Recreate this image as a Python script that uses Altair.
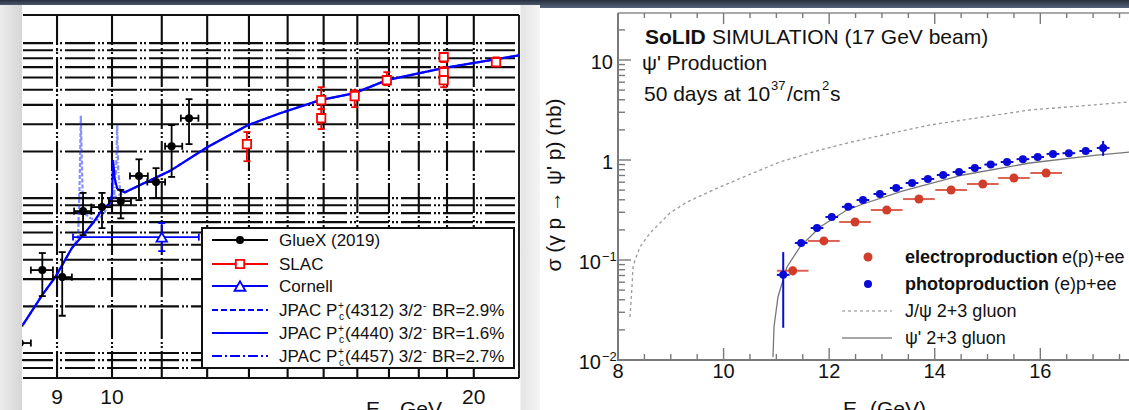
import altair as alt
import pandas as pd

FONT = "Liberation Sans"

# ================= LEFT PANEL : J/psi photoproduction =================
gluex_E   = [8.38, 8.75, 9.09, 9.46, 9.81, 10.17, 10.53, 10.88, 11.21, 11.59]
gluex_sig = [0.116, 0.343, 0.309, 0.824, 0.875, 0.956, 1.39, 1.27, 2.16, 3.28]
gluex_Elo = [8.20, 8.56, 8.93, 9.30, 9.61, 9.94, 10.35, 10.70, 11.07, 11.41]
gluex_Ehi = [8.56, 8.93, 9.26, 9.61, 10.00, 10.37, 10.71, 11.07, 11.44, 11.80]
gluex_slo = [0.090, 0.233, 0.174, 0.577, 0.640, 0.740, 0.970, 1.00, 1.37, 2.23]
gluex_shi = [0.150, 0.442, 0.448, 1.08, 1.08, 1.13, 1.78, 1.56, 2.96, 4.35]

slac_E   = [12.95, 14.93, 14.93, 15.92, 16.93, 18.88, 18.88, 18.88, 20.87]
slac_sig = [2.23, 4.29, 3.28, 4.55, 5.77, 8.12, 6.50, 5.77, 7.54]
slac_slo = [1.73, 3.75, 2.79, 3.86, 5.36, 7.55, 6.05, 5.20, 7.10]
slac_shi = [2.67, 5.20, 3.75, 4.97, 6.50, 8.65, 7.00, 6.30, 8.10]

cornell_E, cornell_sig = [11.0], [0.56]
cornell_Elo, cornell_Ehi = [9.28], [11.81]
cornell_slo, cornell_shi = [0.455], [0.69]

# JPAC Pc(4440) (solid, includes background)
jpac4440_E = [8.43, 8.75, 8.97, 9.26, 9.46, 9.64, 9.81, 9.96, 10.00, 10.02, 10.05, 10.10, 10.15,
              10.25, 11.18, 12.0, 12.98, 13.8, 14.9, 15.92, 16.93, 18.86, 21.81]
jpac4440_s = [0.152, 0.237, 0.309, 0.476, 0.577, 0.69, 0.837, 0.93, 1.05, 1.76, 1.35, 1.15, 1.12,
              1.09, 1.5, 2.13, 2.96, 3.53, 4.29, 4.76, 5.77, 6.9, 8.35]
# JPAC Pc(4312) (dashed)
jpac4312_E = [8.43, 8.75, 8.97, 9.26, 9.37, 9.40, 9.42, 9.44, 9.46, 9.60, 9.72, 9.83, 9.96,
              10.05, 10.25, 11.18, 12.0, 12.98, 13.8, 14.9, 15.92, 16.93, 18.86, 21.81]
jpac4312_s = [0.152, 0.237, 0.309, 0.476, 0.55, 1.3, 3.4, 1.6, 0.81, 0.74, 0.72, 0.78, 0.93,
              1.02, 1.09, 1.5, 2.13, 2.96, 3.53, 4.29, 4.76, 5.77, 6.9, 8.35]
# JPAC Pc(4457) (dash-dot)
jpac4457_E = [8.43, 8.75, 8.97, 9.26, 9.46, 9.64, 9.81, 9.96, 10.04, 10.08, 10.10, 10.12, 10.16,
              10.25, 11.18, 12.0, 12.98, 13.8, 14.9, 15.92, 16.93, 18.86, 21.81]
jpac4457_s = [0.152, 0.237, 0.309, 0.476, 0.577, 0.69, 0.837, 0.93, 1.0, 1.6, 2.96, 1.5, 1.1,
              1.09, 1.5, 2.13, 2.96, 3.53, 4.29, 4.76, 5.77, 6.9, 8.35]

left_hgrid = [0.08, 0.09, 0.1, 0.2, 0.3, 0.4, 0.5, 0.6, 0.7, 0.8, 0.9, 1, 2, 3, 4, 5, 6, 7, 8, 9, 10]
left_vgrid = [9, 10, 11, 12, 13, 14, 15, 16, 17, 18, 19, 20]
left_xlabels = [9, 10, 20]

# ================= RIGHT PANEL : SoLID psi' simulation =================
photo_E   = [11.13, 11.47, 11.77, 12.05, 12.36, 12.64, 12.96, 13.27, 13.57, 13.87, 14.16,
             14.46, 14.76, 15.06, 15.37, 15.67, 15.95, 16.24, 16.54, 16.86, 17.19]
photo_sig = [0.071, 0.148, 0.209, 0.269, 0.340, 0.398, 0.457, 0.525, 0.589, 0.646, 0.708,
             0.759, 0.832, 0.900, 0.955, 1.02, 1.07, 1.15, 1.17, 1.23, 1.32]
photo_lo  = [0.021, 0.138, 0.197, 0.256, 0.325, 0.382, 0.440, 0.507, 0.570, 0.625, 0.686,
             0.735, 0.806, 0.870, 0.922, 0.983, 1.03, 1.10, 1.11, 1.16, 1.10]
photo_hi  = [0.120, 0.158, 0.221, 0.282, 0.355, 0.414, 0.474, 0.543, 0.608, 0.667, 0.730,
             0.783, 0.858, 0.930, 0.988, 1.057, 1.11, 1.20, 1.23, 1.30, 1.55]
photo_halfwidth = 0.12

electro_E   = [11.31, 11.90, 12.49, 13.09, 13.70, 14.31, 14.91, 15.50, 16.11]
electro_sig = [0.078, 0.155, 0.240, 0.316, 0.407, 0.501, 0.575, 0.661, 0.741]
electro_lo  = [0.070, 0.146, 0.230, 0.305, 0.395, 0.488, 0.561, 0.646, 0.725]
electro_hi  = [0.086, 0.164, 0.250, 0.327, 0.419, 0.514, 0.589, 0.676, 0.757]
electro_halfwidth = 0.30

jpsi_E = [8.227, 8.265, 8.284, 8.322, 8.417, 8.606, 8.985, 9.307, 9.932, 10.557, 11.068,
          11.826, 12.583, 13.91, 15.80, 17.68]
jpsi_s = [0.0269, 0.0537, 0.0851, 0.10, 0.135, 0.186, 0.295, 0.380, 0.537, 0.741, 0.955,
          1.26, 1.585, 2.24, 3.16, 3.80]
psi2_E = [10.936, 10.955, 11.03, 11.20, 11.447, 11.826, 12.337, 12.64, 13.4, 14.534, 15.80, 17.07, 17.68]
psi2_s = [0.0107, 0.0214, 0.0427, 0.0851, 0.135, 0.214, 0.316, 0.363, 0.49, 0.708, 0.933, 1.12, 1.20]

r_xmajor = [8, 10, 12, 14, 16]
r_xminor = [8.5, 9, 9.5, 10.5, 11, 11.5, 12.5, 13, 13.5, 14.5, 15, 15.5, 16.5, 17, 17.5]
r_ymajor = [0.01, 0.1, 1, 10]
r_yminor = [0.02, 0.03, 0.04, 0.05, 0.06, 0.07, 0.08, 0.09, 0.2, 0.3, 0.4, 0.5, 0.6, 0.7,
            0.8, 0.9, 2, 3, 4, 5, 6, 7, 8, 9, 20]

# ---------------- scales (pixel ranges) ----------------
xl = alt.Scale(type="log", domain=[8.432, 21.81], range=[23, 519], nice=False, zero=False)
yl = alt.Scale(type="log", domain=[0.0690, 15.2], range=[378, 15], nice=False, zero=False)
xr = alt.Scale(type="linear", domain=[8, 17.68], range=[618, 1129], nice=False, zero=False)
yr = alt.Scale(type="log", domain=[0.01, 29.5], range=[360, 13], nice=False, zero=False)


def one():
    return pd.DataFrame({"a": [0]})


def ptext(s, x, y, size, weight="normal", align="left", baseline="alphabetic",
          color="#111111", angle=0, font=FONT):
    return alt.Chart(pd.DataFrame({"t": [s]})).mark_text(
        align=align, baseline=baseline, fontSize=size, font=font, fontWeight=weight,
        color=color, angle=angle
    ).encode(x=alt.value(x), y=alt.value(y), text="t:N")


def prule(x1, y1, x2, y2, color, width, dash=None, opacity=1.0):
    kw = dict(color=color, strokeWidth=width, opacity=opacity)
    if dash:
        kw["strokeDash"] = dash
    return alt.Chart(one()).mark_rule(**kw).encode(
        x=alt.value(x1), x2=alt.value(x2), y=alt.value(y1), y2=alt.value(y2))


def prect(x1, y1, x2, y2, fill, stroke=None, sw=0):
    kw = dict(fill=fill)
    if stroke:
        kw["stroke"] = stroke
        kw["strokeWidth"] = sw
    return alt.Chart(one()).mark_rect(**kw).encode(
        x=alt.value(x1), x2=alt.value(x2), y=alt.value(y1), y2=alt.value(y2))


def ppoint(x, y, shape, size, color, filled, sw=1.6):
    return alt.Chart(one()).mark_point(shape=shape, size=size, color=color, filled=filled,
                                       opacity=1, strokeWidth=sw).encode(
        x=alt.value(x), y=alt.value(y))


# ======================= LEFT PANEL LAYERS =======================
L = []
gdash = [30, 3, 2, 2, 2, 3]
L.append(alt.Chart(pd.DataFrame({"h": left_hgrid})).mark_rule(
    color="#0d0d0d", strokeWidth=2.1, strokeDash=gdash).encode(
    y=alt.Y("h:Q", scale=yl, axis=None), x=alt.value(23), x2=alt.value(519)))
L.append(alt.Chart(pd.DataFrame({"v": left_vgrid})).mark_rule(
    color="#0d0d0d", strokeWidth=2.1, strokeDash=gdash).encode(
    x=alt.X("v:Q", scale=xl, axis=None), y=alt.value(15), y2=alt.value(378)))
# frame
L.append(prule(23, 15, 519, 15, "#111111", 2))
L.append(prule(519, 15, 519, 378, "#222222", 2))
L.append(prule(23, 378, 519, 378, "#111111", 2))

# JPAC curves
def curve(E, s, color, width, dash=None, opacity=1.0):
    kw = dict(color=color, strokeWidth=width, opacity=opacity)
    if dash:
        kw["strokeDash"] = dash
    return alt.Chart(pd.DataFrame({"E": E, "s": s, "o": list(range(len(E)))})).mark_line(**kw).encode(
        x=alt.X("E:Q", scale=xl, axis=None), y=alt.Y("s:Q", scale=yl, axis=None), order="o:Q")

L.append(curve(jpac4312_E, jpac4312_s, "#2233ff", 2.2, [4, 2], 0.55))
L.append(curve(jpac4457_E, jpac4457_s, "#2233ff", 2.2, [5, 2, 1, 2], 0.55))
L.append(curve(jpac4440_E, jpac4440_s, "#0000ff", 2.2))


def errpoints(E, s, Elo, Ehi, slo, shi, color, shape, size, filled, sw=1.8):
    df = pd.DataFrame(dict(E=E, s=s, Elo=Elo, Ehi=Ehi, slo=slo, shi=shi))
    b = alt.Chart(df)
    X = alt.X("E:Q", scale=xl, axis=None)
    Y = alt.Y("s:Q", scale=yl, axis=None)
    out = [
        b.mark_rule(color=color, strokeWidth=sw).encode(
            x=alt.X("Elo:Q", scale=xl, axis=None), x2="Ehi:Q", y=Y),
        b.mark_rule(color=color, strokeWidth=sw).encode(
            x=X, y=alt.Y("slo:Q", scale=yl, axis=None), y2="shi:Q"),
        b.mark_tick(orient="horizontal", size=7, thickness=sw, color=color, opacity=1).encode(
            x=X, y=alt.Y("shi:Q", scale=yl, axis=None)),
        b.mark_tick(orient="horizontal", size=7, thickness=sw, color=color, opacity=1).encode(
            x=X, y=alt.Y("slo:Q", scale=yl, axis=None)),
        b.mark_tick(orient="vertical", size=7, thickness=sw, color=color, opacity=1).encode(
            x=alt.X("Elo:Q", scale=xl, axis=None), y=Y),
        b.mark_tick(orient="vertical", size=7, thickness=sw, color=color, opacity=1).encode(
            x=alt.X("Ehi:Q", scale=xl, axis=None), y=Y),
        b.mark_point(shape=shape, size=size, color=color, filled=filled, opacity=1,
                     strokeWidth=1.8, fill=(color if filled else "white")).encode(x=X, y=Y),
    ]
    return out

L += errpoints(cornell_E, cornell_sig, cornell_Elo, cornell_Ehi, cornell_slo, cornell_shi,
               "#0000ff", "triangle-up", 110, False)
L += errpoints(slac_E, slac_sig, [e for e in slac_E], [e for e in slac_E], slac_slo, slac_shi,
               "#ff0000", "square", 70, False)
L += errpoints(gluex_E, gluex_sig, gluex_Elo, gluex_Ehi, gluex_slo, gluex_shi,
               "#000000", "circle", 65, True)

# legend box
L.append(prect(202, 228, 514, 368, "white", "#111111", 2))
rows = [240, 264, 286, 310, 333, 356]
L.append(prule(212, rows[0], 268, rows[0], "#000000", 2))
L.append(ppoint(240, rows[0], "circle", 65, "#000000", True))
L.append(prule(212, rows[1], 268, rows[1], "#ff0000", 2))
L.append(alt.Chart(one()).mark_point(shape="square", size=70, color="#ff0000", fill="white",
                                     filled=False, opacity=1, strokeWidth=1.8).encode(
    x=alt.value(240), y=alt.value(rows[1])))
L.append(prule(212, rows[2], 268, rows[2], "#0000ff", 2))
L.append(alt.Chart(one()).mark_point(shape="triangle-up", size=120, color="#0000ff", fill="white",
                                     filled=False, opacity=1, strokeWidth=1.8).encode(
    x=alt.value(240), y=alt.value(rows[2])))
L.append(prule(212, rows[3], 268, rows[3], "#0000ff", 2, [6, 3]))
L.append(prule(212, rows[4], 268, rows[4], "#0000ff", 2))
L.append(prule(212, rows[5], 268, rows[5], "#0000ff", 2, [10, 3, 2, 3]))
LF = 17
L.append(ptext("GlueX (2019)", 279, rows[0] + 6, LF))
L.append(ptext("SLAC", 279, rows[1] + 6, LF))
L.append(ptext("Cornell", 279, rows[2] + 6, LF))
for r, state, br in [(rows[3], "4312", "2.9%"), (rows[4], "4440", "1.6%"), (rows[5], "4457", "2.7%")]:
    L.append(ptext("JPAC P", 279, r + 6, LF))
    L.append(ptext("+", 338, r - 1, 10))
    L.append(ptext("c", 339, r + 10, 10))
    L.append(ptext("(" + state + ") 3/2", 345, r + 6, LF))
    L.append(ptext("-", 423, r - 1, 11))
    L.append(ptext("BR=" + br, 432, r + 6, LF))

# x tick labels and title (left)
L.append(alt.Chart(pd.DataFrame({"v": left_xlabels, "t": [str(v) for v in left_xlabels]})).mark_text(
    fontSize=21, font=FONT, color="#111111", baseline="middle", align="center").encode(
    x=alt.X("v:Q", scale=xl, axis=None), y=alt.value(398), text="t:N"))
L.append(ptext("E", 366, 416, 21))
L.append(ptext("γ", 380, 422, 14))
L.append(ptext("GeV", 400, 416, 21))

left = alt.layer(*L)

# ======================= RIGHT PANEL LAYERS =======================
R = []
def rcurve(E, s, color, width, dash=None):
    kw = dict(color=color, strokeWidth=width)
    if dash:
        kw["strokeDash"] = dash
    return alt.Chart(pd.DataFrame({"E": E, "s": s, "o": list(range(len(E)))})).mark_line(**kw).encode(
        x=alt.X("E:Q", scale=xr, axis=None), y=alt.Y("s:Q", scale=yr, axis=None), order="o:Q")

R.append(rcurve(jpsi_E, jpsi_s, "#9a9a9a", 1.3, [3, 3]))
R.append(rcurve(psi2_E, psi2_s, "#777777", 1.3))

# electroproduction (red)
dfe = pd.DataFrame(dict(E=electro_E, s=electro_sig, lo=electro_lo, hi=electro_hi))
dfe["Elo"] = dfe["E"] - electro_halfwidth
dfe["Ehi"] = dfe["E"] + electro_halfwidth
be = alt.Chart(dfe)
RED = "#d23c2a"
R.append(be.mark_rule(color=RED, strokeWidth=2, opacity=0.8).encode(
    x=alt.X("Elo:Q", scale=xr, axis=None), x2="Ehi:Q", y=alt.Y("s:Q", scale=yr, axis=None)))
R.append(be.mark_rule(color=RED, strokeWidth=2, opacity=0.8).encode(
    x=alt.X("E:Q", scale=xr, axis=None), y=alt.Y("lo:Q", scale=yr, axis=None), y2="hi:Q"))
R.append(be.mark_point(shape="circle", filled=True, size=80, color=RED, opacity=1).encode(
    x=alt.X("E:Q", scale=xr, axis=None), y=alt.Y("s:Q", scale=yr, axis=None)))

# photoproduction (blue)
dfp = pd.DataFrame(dict(E=photo_E, s=photo_sig, lo=photo_lo, hi=photo_hi))
dfp["Elo"] = dfp["E"] - photo_halfwidth
dfp["Ehi"] = dfp["E"] + photo_halfwidth
bp = alt.Chart(dfp)
BLUE = "#0a0ad8"
R.append(bp.mark_rule(color=BLUE, strokeWidth=2).encode(
    x=alt.X("Elo:Q", scale=xr, axis=None), x2="Ehi:Q", y=alt.Y("s:Q", scale=yr, axis=None)))
R.append(bp.mark_rule(color=BLUE, strokeWidth=2).encode(
    x=alt.X("E:Q", scale=xr, axis=None), y=alt.Y("lo:Q", scale=yr, axis=None), y2="hi:Q"))
R.append(bp.mark_point(shape="circle", filled=True, size=64, color=BLUE, opacity=1).encode(
    x=alt.X("E:Q", scale=xr, axis=None), y=alt.Y("s:Q", scale=yr, axis=None)))

# axes frame
AX = "#7a7a7a"
R.append(prule(618, 13, 618, 361, AX, 2))
R.append(prule(617, 360, 1129, 360, AX, 2))
R.append(prule(618, 13, 1129, 13, "#555555", 1.2))
R.append(alt.Chart(pd.DataFrame({"v": r_xmajor})).mark_rule(color=AX, strokeWidth=1.4).encode(
    x=alt.X("v:Q", scale=xr, axis=None), y=alt.value(360), y2=alt.value(348)))
R.append(alt.Chart(pd.DataFrame({"v": r_xminor})).mark_rule(color=AX, strokeWidth=1.4).encode(
    x=alt.X("v:Q", scale=xr, axis=None), y=alt.value(360), y2=alt.value(354)))
R.append(alt.Chart(pd.DataFrame({"v": r_xmajor})).mark_rule(color=AX, strokeWidth=1.4).encode(
    x=alt.X("v:Q", scale=xr, axis=None), y=alt.value(13), y2=alt.value(24)))
R.append(alt.Chart(pd.DataFrame({"v": r_xminor})).mark_rule(color=AX, strokeWidth=1.4).encode(
    x=alt.X("v:Q", scale=xr, axis=None), y=alt.value(13), y2=alt.value(18)))
R.append(alt.Chart(pd.DataFrame({"v": r_ymajor})).mark_rule(color=AX, strokeWidth=1.4).encode(
    y=alt.Y("v:Q", scale=yr, axis=None), x=alt.value(618), x2=alt.value(631)))
R.append(alt.Chart(pd.DataFrame({"v": r_yminor})).mark_rule(color=AX, strokeWidth=1.4).encode(
    y=alt.Y("v:Q", scale=yr, axis=None), x=alt.value(618), x2=alt.value(625)))

# tick labels
TF = 20
R.append(alt.Chart(pd.DataFrame({"v": r_xmajor, "t": [str(v) for v in r_xmajor]})).mark_text(
    fontSize=TF, font=FONT, color="#111111", align="center", baseline="middle").encode(
    x=alt.X("v:Q", scale=xr, axis=None), y=alt.value(372), text="t:N"))
R.append(alt.Chart(pd.DataFrame({"v": [10, 1], "t": ["10", "1"]})).mark_text(
    fontSize=TF, font=FONT, color="#111111", align="right", baseline="middle", dy=3).encode(
    y=alt.Y("v:Q", scale=yr, axis=None), x=alt.value(613), text="t:N"))
R.append(alt.Chart(pd.DataFrame({"v": [0.1, 0.01], "t": ["10", "10"]})).mark_text(
    fontSize=TF, font=FONT, color="#111111", align="right", baseline="middle", dy=3).encode(
    y=alt.Y("v:Q", scale=yr, axis=None), x=alt.value(601), text="t:N"))
R.append(alt.Chart(pd.DataFrame({"v": [0.1, 0.01], "t": ["−1", "−2"]})).mark_text(
    fontSize=13, font=FONT, color="#111111", align="left", baseline="middle", dy=-3).encode(
    y=alt.Y("v:Q", scale=yr, axis=None), x=alt.value(602), text="t:N"))

# axis titles
R.append(ptext("σ (γ p → ψ' p) (nb)", 561, 185, 21, align="center", angle=270))
R.append(ptext("E", 843, 416, 21))
R.append(ptext("γ", 857, 422, 14))
R.append(ptext("(GeV)", 870, 416, 21))

# header texts
R.append(ptext("SoLID", 645, 44, 21, weight="bold"))
R.append(ptext("SIMULATION (17 GeV beam)", 712, 44, 21))
R.append(ptext("ψ' Production", 642, 70, 21))
R.append(ptext("50 days at 10", 644, 101, 21))
R.append(ptext("37", 771, 90, 13))
R.append(ptext("/cm", 787, 101, 21))
R.append(ptext("2", 822, 90, 13))
R.append(ptext("s", 830, 101, 21))

# legend (right)
R.append(ppoint(868, 257, "circle", 80, RED, True))
R.append(ppoint(868, 284, "circle", 64, BLUE, True))
R.append(prule(842, 311, 892, 311, "#b0b0b0", 1.3, [3, 3]))
R.append(prule(842, 338, 892, 338, "#8a8a8a", 1.3))
R.append(ptext("electroproduction", 905, 263, 18, weight="bold"))
R.append(ptext("e(p)+ee", 1062, 263, 18))
R.append(ptext("photoproduction", 905, 290, 18, weight="bold"))
R.append(ptext("(e)p+ee", 1054, 290, 18))
R.append(ptext("J/ψ 2+3 gluon", 905, 317, 18))
R.append(ptext("ψ' 2+3 gluon", 905, 344, 18))

right = alt.layer(*R)

# ======================= OVERLAYS (page chrome) =======================
O = []
O.append(alt.Chart(one()).mark_rect(color=alt.LinearGradient(
    gradient="linear", x1=0, x2=1, y1=0, y2=0,
    stops=[alt.GradientStop(color="#ececec", offset=0), alt.GradientStop(color="#d6d6d6", offset=1)])).encode(
    x=alt.value(0), x2=alt.value(22), y=alt.value(0), y2=alt.value(410)))
O.append(alt.Chart(one()).mark_rect(color=alt.LinearGradient(
    gradient="linear", x1=0, x2=1, y1=0, y2=0,
    stops=[alt.GradientStop(color="#e4e4e4", offset=0), alt.GradientStop(color="#f4f4f4", offset=1)])).encode(
    x=alt.value(520.5), x2=alt.value(540), y=alt.value(0), y2=alt.value(410)))
O.append(alt.Chart(one()).mark_rect(color=alt.LinearGradient(
    gradient="linear", x1=0, x2=0, y1=0, y2=1,
    stops=[alt.GradientStop(color="#26303f", offset=0), alt.GradientStop(color="#4a566a", offset=1)])).encode(
    x=alt.value(0), x2=alt.value(540), y=alt.value(0), y2=alt.value(5)))
O.append(alt.Chart(one()).mark_rect(color=alt.LinearGradient(
    gradient="linear", x1=0, x2=0, y1=0, y2=1,
    stops=[alt.GradientStop(color="#26303f", offset=0), alt.GradientStop(color="#56627a", offset=1)])).encode(
    x=alt.value(540), x2=alt.value(1129), y=alt.value(0), y2=alt.value(8)))

chart = alt.layer(left, right, *O).resolve_scale(x="independent", y="independent").properties(
    width=1129, height=410, autosize=alt.AutoSizeParams(type="none"),
    padding={"left": 0, "top": 0, "right": 0, "bottom": 0}, background="white"
).configure_view(stroke="transparent")

chart.save("out.html", embed_options={"renderer": "svg", "actions": False})
